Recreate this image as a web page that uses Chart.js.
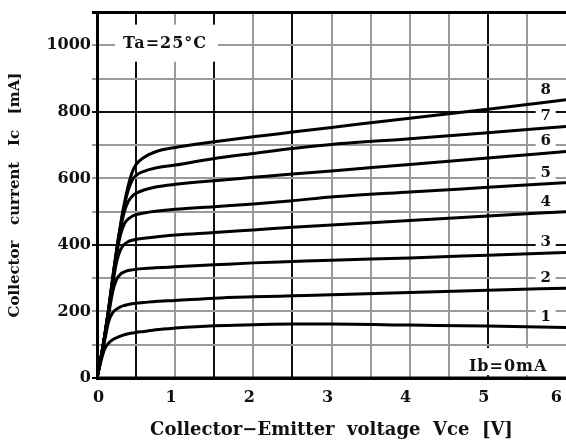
<!DOCTYPE html>
<html>
<head>
<meta charset="utf-8">
<script src="https://cdn.jsdelivr.net/npm/chart.js@4.4.0/dist/chart.umd.min.js"></script>
<style>
  html, body { margin: 0; padding: 0; background: #fff; }
  #wrap { width: 566px; height: 444px; position: relative; }
</style>
</head>
<body>
<div id="wrap"><canvas id="ic-chart"></canvas></div>
<script>
// collector-emitter voltage sample points [V], shared by every curve
const vce = [0, 0.05, 0.1, 0.15, 0.2, 0.25, 0.3, 0.35, 0.4, 0.45, 0.5, 0.6, 0.75, 1, 1.5, 2, 2.5, 3, 4, 5, 6];

// collector current [mA], one array per base current step
const ic0 = [0, 0, 0, 0, 0, 0, 0, 0, 0, 0, 0, 0, 0, 0, 0, 0, 0, 0, 0, 0, 0];
const ic1 = [0, 50, 88, 105, 115, 121, 126, 130, 133, 135, 137, 140, 145, 150, 157, 160, 162, 162, 159, 156, 152];
const ic2 = [0, 55, 115, 170, 196, 207, 214, 218, 221, 223, 225, 227, 230, 233, 240, 244, 247, 250, 257, 264, 270];
const ic3 = [0, 58, 122, 192, 258, 296, 312, 319, 323, 325, 327, 329, 331, 334, 340, 346, 350, 354, 361, 369, 377];
const ic4 = [0, 60, 126, 200, 280, 348, 385, 402, 410, 414, 417, 420, 424, 430, 437, 445, 453, 460, 473, 487, 500];
const ic5 = [0, 60, 128, 205, 290, 370, 430, 463, 478, 486, 491, 496, 501, 507, 515, 523, 533, 544, 559, 573, 587];
const ic6 = [0, 60, 130, 208, 295, 378, 447, 500, 530, 546, 555, 565, 574, 582, 593, 603, 613, 622, 642, 661, 681];
const ic7 = [0, 60, 130, 210, 298, 382, 455, 518, 565, 594, 609, 621, 631, 640, 660, 675, 690, 702, 719, 737, 756];
const ic8 = [0, 60, 130, 210, 300, 385, 460, 525, 578, 618, 642, 663, 680, 693, 710, 725, 739, 753, 781, 808, 836];

const curves = [ic1, ic2, ic3, ic4, ic5, ic6, ic7, ic8];
const curveNames = ["1", "2", "3", "4", "5", "6", "7", "8"];

const xTickLabels = [0, 1, 2, 3, 4, 5, 6];
const yTickLabels = [0, 200, 400, 600, 800, 1000];

const FONT = '"DejaVu Serif", "Liberation Serif", serif';
const darkX = [0.5, 1.5, 2.5, 5];
const darkY = [400, 800];

function toPoints(vals) {
  return vals.map((v, i) => ({ x: vce[i], y: v }));
}

const datasets = [ic0].concat(curves).map(vals => ({
  data: toPoints(vals),
  borderColor: '#000',
  borderWidth: 3,
  pointRadius: 0,
  fill: false,
  cubicInterpolationMode: 'monotone'
}));

// white boxes + curve numbers and the two notes
const notes = {
  id: 'notes',
  beforeDatasetsDraw(chart) {
    const { ctx, scales: { x, y } } = chart;
    ctx.save();
    ctx.fillStyle = '#fff';
    // Ta box
    ctx.fillRect(x.getPixelForValue(0.23), y.getPixelForValue(1062), 103, 37);
    // Ib box
    ctx.fillRect(x.getPixelForValue(4.68), y.getPixelForValue(90), 104, 27);
    const lx = x.getPixelForValue(5.74);
    curves.forEach(vals => {
      const py = y.getPixelForValue(vals[vals.length - 1]) - 10;
      ctx.fillRect(lx - 10, py - 9, 20, 17);
    });

    ctx.fillStyle = '#111';
    ctx.textAlign = 'center';
    ctx.textBaseline = 'middle';
    ctx.font = 'bold 15px ' + FONT;
    curves.forEach((vals, i) => {
      const py = y.getPixelForValue(vals[vals.length - 1]) - 10;
      ctx.fillText(curveNames[i], lx, py);
    });
    ctx.letterSpacing = '1px';
    ctx.font = 'bold 16px ' + FONT;
    ctx.fillText('Ta=25°C', x.getPixelForValue(0.87), y.getPixelForValue(1005));
    ctx.fillText('Ib=0mA', x.getPixelForValue(5.26), y.getPixelForValue(33));
    ctx.restore();
  }
};

new Chart(document.getElementById('ic-chart'), {
  type: 'line',
  data: { datasets: datasets },
  plugins: [notes],
  options: {
    responsive: true,
    maintainAspectRatio: false,
    animation: false,
    layout: { padding: { top: 12, right: 0, bottom: 0, left: 0 } },
    plugins: {
      legend: { display: false },
      tooltip: { enabled: false }
    },
    scales: {
      x: {
        type: 'linear',
        min: 0,
        max: 6,
        ticks: {
          stepSize: 0.5,
          align: 'inner',
          labelOffset: -4,
          maxRotation: 0,
          autoSkip: false,
          padding: 10,
          color: '#111',
          font: { family: FONT, size: 16, weight: 'bold' },
          callback: v => xTickLabels.includes(v) ? String(v) : ''
        },
        grid: {
          drawTicks: false,
          color: ctx => {
            const v = ctx.tick.value;
            if (v === 6) return 'rgba(0,0,0,0)';
            return darkX.includes(v) || v === 0 ? '#111' : '#9a9a9a';
          },
          lineWidth: 2
        },
        border: { color: '#000', width: 3 },
        title: {
          display: true,
          text: 'Collector−Emitter  voltage  Vce  [V]',
          color: '#111',
          font: { family: FONT, size: 18, weight: 'bold' },
          padding: { top: 0, bottom: 3 }
        },
        afterFit: s => { s.height = 66; s.paddingLeft = 0; s.paddingRight = 0; }
      },
      y: {
        min: 0,
        max: 1100,
        ticks: {
          stepSize: 100,
          padding: 1,
          color: '#111',
          font: { family: FONT, size: 16, weight: 'bold' },
          callback: v => yTickLabels.includes(v) ? String(v) : ''
        },
        grid: {
          tickLength: 5,
          color: ctx => {
            const v = ctx.tick.value;
            if (v === 1100 || v === 0) return '#000';
            return darkY.includes(v) ? '#111' : '#9a9a9a';
          },
          lineWidth: ctx => ctx.tick.value === 1100 ? 3 : 2
        },
        border: { color: '#000', width: 3 },
        title: {
          display: true,
          text: 'Collector   current   Ic   [mA]',
          color: '#111',
          font: { family: FONT, size: 15, weight: 'bold' },
          padding: { top: 6, bottom: 0 }
        },
        afterFit: s => { s.width = 97; s.paddingTop = 0; s.paddingBottom = 0; }
      }
    }
  }
});
</script>
</body>
</html>
